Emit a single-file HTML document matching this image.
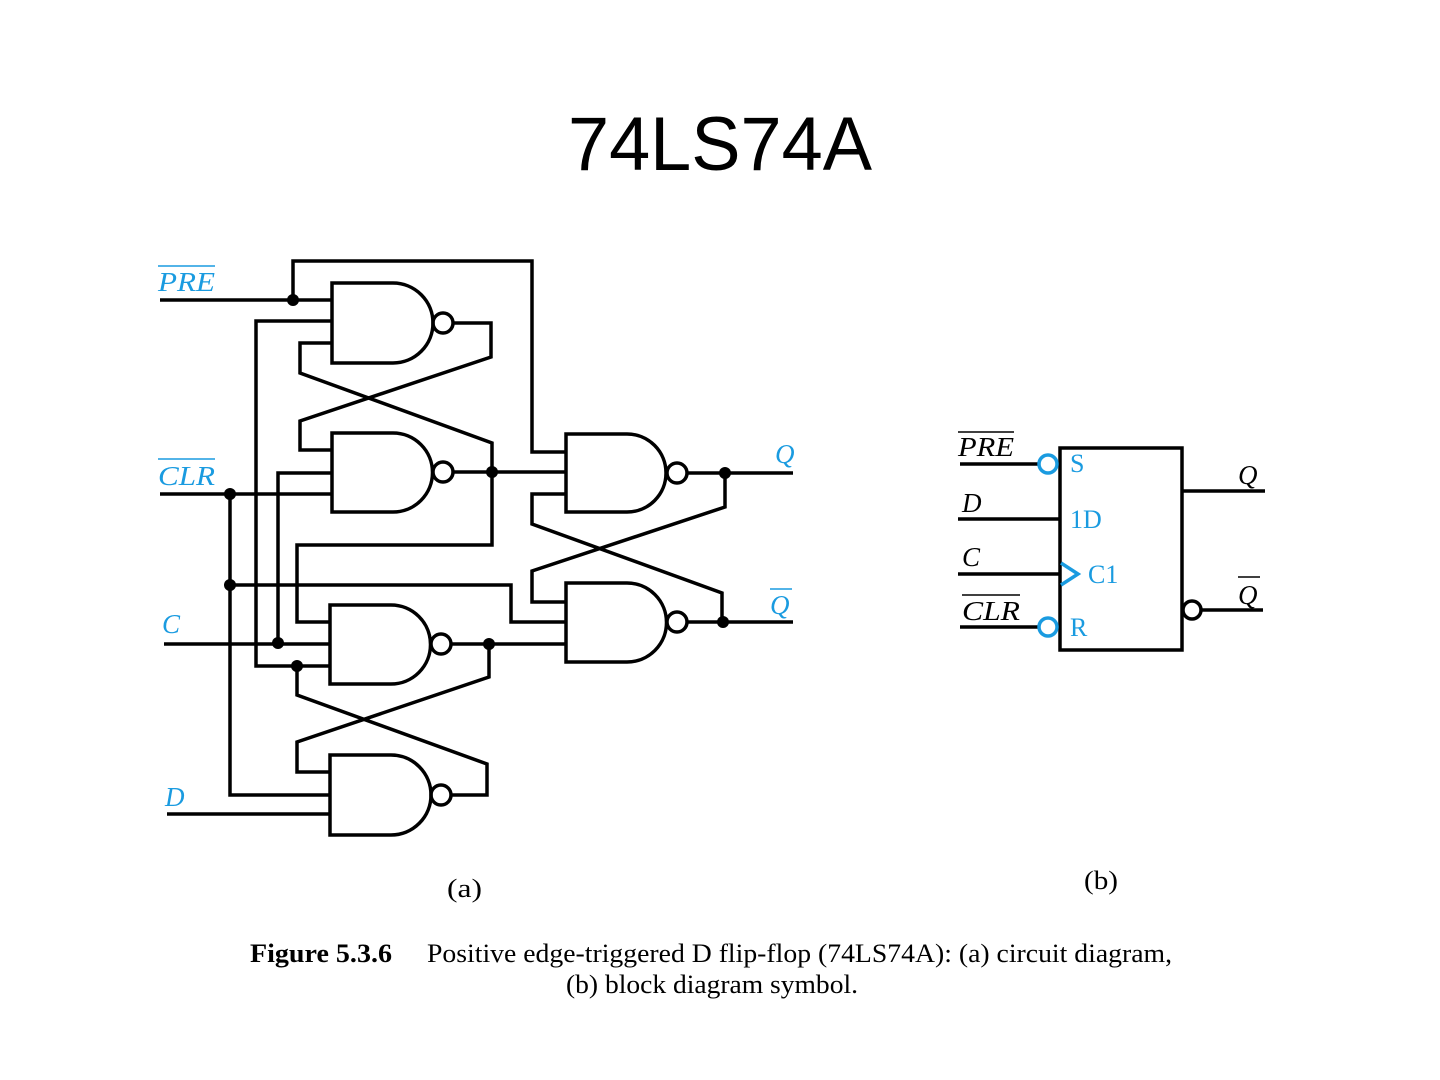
<!DOCTYPE html>
<html><head><meta charset="utf-8"><style>html,body{margin:0;padding:0;background:#fff}svg{display:block}</style></head><body>
<svg width="1440" height="1080" viewBox="0 0 1440 1080" xmlns="http://www.w3.org/2000/svg">
<text x="720" y="170" text-anchor="middle" font-family="Liberation Sans, sans-serif" font-size="76" textLength="304" lengthAdjust="spacingAndGlyphs">74LS74A</text>
<g fill="none" stroke="#000" stroke-width="3.5">
<path d="M332 283 H393 A40 40 0 0 1 393 363 H332 Z"/><circle cx="443" cy="323" r="10"/>
<path d="M332 433 H393 A39.5 39.5 0 0 1 393 512 H332 Z"/><circle cx="443" cy="472" r="10"/>
<path d="M330 605 H391 A39.5 39.5 0 0 1 391 684 H330 Z"/><circle cx="441" cy="644" r="10"/>
<path d="M330 755 H391 A40 40 0 0 1 391 835 H330 Z"/><circle cx="441" cy="795" r="10"/>
<path d="M566 434 H627 A39 39 0 0 1 627 512 H566 Z"/><circle cx="677" cy="473" r="10"/>
<path d="M566 583 H627 A39.5 39.5 0 0 1 627 662 H566 Z"/><circle cx="677" cy="622" r="10"/>
<path d="M160 300 H332 M293 300 V261 H532 V452 H566"/>
<path d="M332 321 H256 V666 H330"/>
<path d="M453 323 H491 V357 L300 421 V450 H332"/>
<path d="M332 343 H300 V373 L492 443 V545 H297 V622 H330"/>
<path d="M453 472 H566"/>
<path d="M332 473 H278 V644"/>
<path d="M160 494 H332 M230 494 V795 H330"/>
<path d="M230 585 H511 V622 H566"/>
<path d="M164 644 H330"/>
<path d="M451 644 H566 M489 644 V677 L297 742 V772 H330"/>
<path d="M297 666 V695 L487 764 V795 H451"/>
<path d="M167 814 H330"/>
<path d="M687 473 H793 M725 473 V507 L532 571 V602 H566"/>
<path d="M566 494 H532 V524 L722 593 V622"/>
<path d="M687 622 H793"/>
<rect x="1060" y="448" width="122" height="202"/>
<path d="M960 464 H1039 M958 519 H1060 M958 574 H1060 M960 627 H1039 M1182 491 H1265 M1201 610 H1263"/>
<circle cx="1192" cy="610" r="9"/>
</g>
<g fill="#000">
<circle cx="293" cy="300" r="6"/><circle cx="492" cy="472" r="6"/><circle cx="230" cy="494" r="6"/>
<circle cx="230" cy="585" r="6"/><circle cx="278" cy="643" r="6"/><circle cx="297" cy="666" r="6"/>
<circle cx="489" cy="644" r="6"/><circle cx="725" cy="473" r="6"/><circle cx="723" cy="622" r="6"/>
</g>
<g fill="none" stroke="#1a9be0" stroke-width="3.5">
<circle cx="1048" cy="464" r="9"/><circle cx="1048" cy="627" r="9"/>
<path d="M1061 563 L1078 574 L1061 585"/>
</g>
<g font-family="Liberation Serif, serif" font-style="italic" font-size="27" fill="#1a9be0">
<text x="158" y="291" textLength="57" lengthAdjust="spacingAndGlyphs">PRE</text><line x1="158" y1="266" x2="215" y2="266" stroke="#1a9be0" stroke-width="1.5"/>
<text x="158" y="485" textLength="57" lengthAdjust="spacingAndGlyphs">CLR</text><line x1="158" y1="459" x2="215" y2="459" stroke="#1a9be0" stroke-width="1.5"/>
<text x="162" y="633">C</text>
<text x="165" y="806">D</text>
<text x="775" y="463">Q</text>
<text x="770" y="614">Q</text><line x1="770" y1="589" x2="792" y2="589" stroke="#1a9be0" stroke-width="1.5"/>
</g>
<g font-family="Liberation Serif, serif" font-size="26" fill="#1a9be0">
<text x="1070" y="472">S</text><text x="1070" y="528">1D</text><text x="1088" y="583">C1</text><text x="1070" y="636">R</text>
</g>
<g font-family="Liberation Serif, serif" font-style="italic" font-size="27" fill="#000">
<text x="958" y="456" textLength="56" lengthAdjust="spacingAndGlyphs">PRE</text><line x1="958" y1="432" x2="1014" y2="432" stroke="#000" stroke-width="1.5"/>
<text x="962" y="512">D</text>
<text x="962" y="566">C</text>
<text x="962" y="620" textLength="58" lengthAdjust="spacingAndGlyphs">CLR</text><line x1="962" y1="595" x2="1020" y2="595" stroke="#000" stroke-width="1.5"/>
<text x="1238" y="484">Q</text>
<text x="1238" y="604">Q</text><line x1="1238" y1="577" x2="1260" y2="577" stroke="#000" stroke-width="1.5"/>
</g>
<g font-family="Liberation Serif, serif" font-size="26" fill="#000">
<text x="447" y="897" textLength="35" lengthAdjust="spacingAndGlyphs">(a)</text>
<text x="1084" y="889" textLength="34" lengthAdjust="spacingAndGlyphs">(b)</text>
<text x="250" y="962" font-weight="bold" textLength="142" lengthAdjust="spacingAndGlyphs">Figure 5.3.6</text>
<text x="427" y="962" textLength="745" lengthAdjust="spacingAndGlyphs">Positive edge-triggered D flip-flop (74LS74A): (a) circuit diagram,</text>
<text x="566" y="993" textLength="292" lengthAdjust="spacingAndGlyphs">(b) block diagram symbol.</text>
</g>
</svg>
</body></html>
